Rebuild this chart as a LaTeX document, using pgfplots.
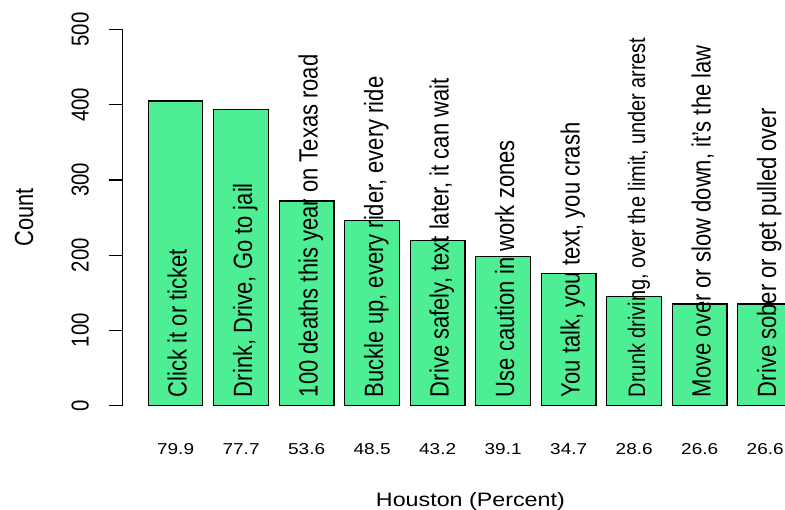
\documentclass[border=0pt]{standalone}
\usepackage{fontspec}
\setmainfont{Liberation Sans}
\usepackage{pgfplots}
\usepackage{pgfplotstable}
\pgfplotsset{compat=1.18}
\definecolor{seagreen2}{HTML}{4EEE94}
\newcommand\smallerlabel{\fontsize{19.9bp}{24bp}\selectfont}

\pgfplotstableread[col sep=semicolon]{
x;count;pct;label
0.7;405;79.9;Click it or ticket
1.9;394;77.7;Drink, Drive, Go to jail
3.1;272;53.6;100 deaths this year on Texas road
4.3;246;48.5;Buckle up, every rider, every ride
5.5;219;43.2;Drive safely, text later, it can wait
6.7;198;39.1;Use caution in work zones
7.9;176;34.7;You talk, you text, you crash
9.1;145;28.6;{\smallerlabel Drunk driving, over the limit, under arrest}
10.3;135;26.6;Move over or slow down, it's the law
11.5;135;26.6;Drive sober or get pulled over
}\data

\begin{document}
\begin{tikzpicture}
\useasboundingbox (0,0) rectangle (785bp,510bp);
\clip (0,0) rectangle (785bp,510bp);
\begin{axis}[
  at={(122.7bp,104.5bp)}, anchor=south west,
  scale only axis, width=662.3bp, height=376bp,
  xmin=-0.269, xmax=11.863, ymin=0, ymax=500,
  clip=false,
  axis y line*=left, axis x line*=bottom,
  x axis line style={draw=none},
  y axis line style={line width=1.2bp, black},
  /pgf/number format/assume math mode=true,
  ytick={0,100,...,500},
  tick align=outside,
  major tick length=14bp,
  ytick style={line width=1.2bp, black},
  xtick style={draw=none},
  xtick=data,
  xticklabels from table={\data}{pct},
  yticklabel style={rotate=90, anchor=south, inner sep=0pt, font=\fontsize{20.4bp}{24bp}\selectfont, yscale=1.2},
  yticklabel shift=19.7bp,
  xticklabel style={anchor=base, inner sep=0pt, font=\fontsize{15.8bp}{18bp}\selectfont, xscale=1.2},
  xticklabel shift=34.5bp,
  xlabel={Houston (Percent)},
  every axis x label/.style={at={(axis description cs:0.525,-0.269)}, anchor=base, inner sep=0pt, font=\fontsize{19.4bp}{23bp}\selectfont, xscale=1.2},
  ylabel={Count},
  every axis y label/.style={at={(axis description cs:-0.149,0.5)}, rotate=90, anchor=center, inner sep=0pt, font=\fontsize{21.8bp}{26bp}\selectfont, yscale=1.2},
]
\addplot[ybar, bar width=1, fill=seagreen2, draw=black, line width=1.2bp] table[x=x, y=count] {\data};
\addplot[draw=none, mark=none, nodes near coords, point meta=explicit symbolic,
  every node near coord/.append style={rotate=90, anchor=base west, inner sep=0pt, font=\fontsize{22bp}{26bp}\selectfont, yscale=1.2}]
  table[x expr=\thisrow{x}+0.2016, y expr=11, meta=label] {\data};
\end{axis}
\end{tikzpicture}
\end{document}
